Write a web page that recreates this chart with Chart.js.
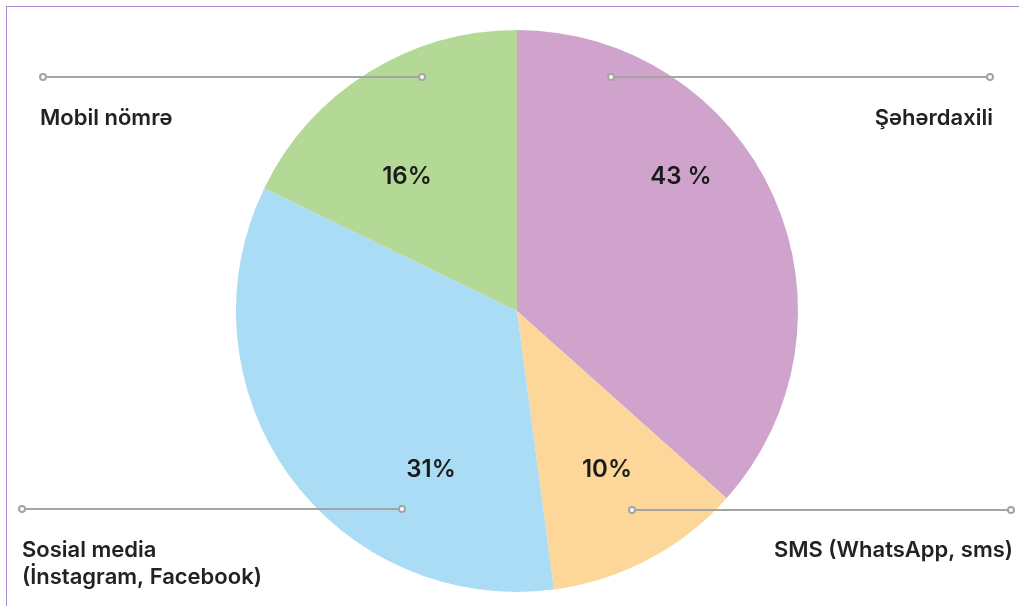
<!DOCTYPE html>
<html>
<head>
<meta charset="utf-8">
<script src="https://cdn.jsdelivr.net/npm/chart.js@4/dist/chart.umd.min.js"></script>
<style>
  html, body { margin: 0; padding: 0; background: #fff; }
  #wrap { position: relative; width: 1019px; height: 606px; }
  #frame { position: absolute; left: 6px; top: 6px; right: -10px; bottom: -10px;
           border-left: 1.5px solid #a98bd6; border-top: 1.5px solid #a98bd6; }
  canvas { position: absolute; left: 0; top: 0; }
</style>
</head>
<body>
<div id="wrap">
  <div id="frame"></div>
  <canvas id="pie" width="1019" height="606"></canvas>
</div>
<script>
// slices clockwise from the top
const categories = ['Şəhərdaxili', 'SMS (WhatsApp, sms)', 'Sosial media (İnstagram, Facebook)', 'Mobil nömrə'];
// shares as drawn in the picture
const shares = [36.6, 11.3, 34.3, 17.8];
// percentages printed on the slices
const pctLabels = ['43 %', '10%', '31%', '16%'];
const colors = ['#cfa3cc', '#fdd699', '#aaddf5', '#b4d996'];

const FONT = 'Inter, "Noto Sans", sans-serif';

// leader lines + outside labels, offsets from pie centre
const callouts = [
  { x1: 94, x2: 473, y: -234, text: ['Şəhərdaxili'], tx: 476, ty: -193, align: 'right' },
  { x1: 115, x2: 494, y: 199, text: ['SMS (WhatsApp, sms)'], tx: 496, ty: 239, align: 'right' },
  { x1: -495, x2: -115, y: 198, text: ['Sosial media', '(İnstagram, Facebook)'], tx: -495, ty: 239, align: 'left' },
  { x1: -474, x2: -95, y: -234, text: ['Mobil nömrə'], tx: -477, ty: -193, align: 'left' }
];
const pctPos = [[164, -134], [90, 159], [-86, 159], [-110, -134]];

const labelPlugin = {
  id: 'labels',
  afterDatasetsDraw(chart) {
    const ctx = chart.ctx;
    const arc = chart.getDatasetMeta(0).data[0];
    const cx = arc.x, cy = arc.y;
    ctx.save();
    // percentages
    ctx.font = '600 24px ' + FONT;
    ctx.fillStyle = '#1b1b1b';
    ctx.textAlign = 'center';
    ctx.textBaseline = 'middle';
    pctLabels.forEach((t, i) => {
      ctx.fillText(t, cx + pctPos[i][0], cy + pctPos[i][1]);
    });
    // leader lines
    callouts.forEach(c => {
      ctx.strokeStyle = '#a4a4a4';
      ctx.lineWidth = 2;
      ctx.beginPath();
      ctx.moveTo(cx + c.x1 + 3, cy + c.y);
      ctx.lineTo(cx + c.x2 - 3, cy + c.y);
      ctx.stroke();
      [c.x1, c.x2].forEach(x => {
        ctx.beginPath();
        ctx.arc(cx + x, cy + c.y, 3, 0, Math.PI * 2);
        ctx.fillStyle = '#fff';
        ctx.fill();
        ctx.stroke();
      });
      ctx.font = '600 22px ' + FONT;
      ctx.fillStyle = '#222';
      ctx.textAlign = c.align;
      c.text.forEach((line, k) => {
        ctx.fillText(line, cx + c.tx, cy + c.ty + k * 27);
      });
    });
    ctx.restore();
  }
};

new Chart(document.getElementById('pie'), {
  type: 'pie',
  data: {
    labels: categories,
    datasets: [{
      data: shares,
      backgroundColor: colors,
      borderWidth: 0
    }]
  },
  options: {
    responsive: false,
    animation: false,
    layout: { padding: { left: 15, right: 0, top: 30, bottom: 14 } },
    plugins: {
      legend: { display: false },
      tooltip: { enabled: false }
    }
  },
  plugins: [labelPlugin]
});
</script>
</body>
</html>
